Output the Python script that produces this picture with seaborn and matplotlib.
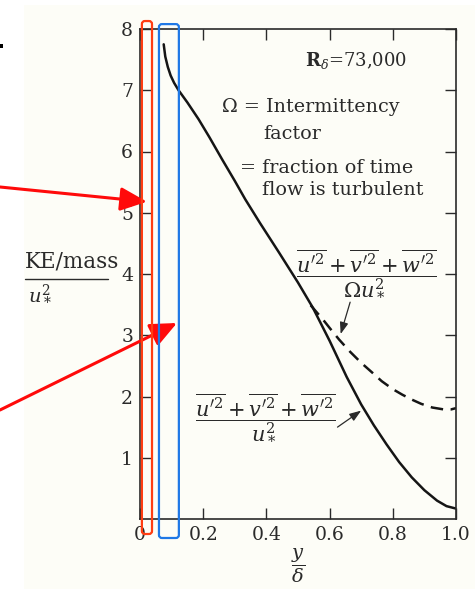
import numpy as np
import pandas as pd
import matplotlib
matplotlib.use("Agg")
import matplotlib.pyplot as plt
import seaborn as sns
from matplotlib.patches import Rectangle, FancyBboxPatch
from matplotlib.lines import Line2D
from matplotlib.transforms import IdentityTransform

# Turbulent kinetic energy across the boundary layer, R_delta = 73,000
y_over_delta = [0.075, 0.080, 0.088, 0.097, 0.108, 0.122, 0.15, 0.185, 0.22,
                0.26, 0.30, 0.333, 0.38, 0.44, 0.50, 0.547, 0.60, 0.654,
                0.70, 0.74, 0.78, 0.82, 0.86, 0.90, 0.94, 0.97, 1.0]
ke_total = [7.75, 7.55, 7.38, 7.24, 7.12, 7.00, 6.80, 6.53, 6.23,
            5.87, 5.52, 5.22, 4.83, 4.35, 3.86, 3.45, 2.91, 2.32,
            1.87, 1.53, 1.22, 0.93, 0.68, 0.47, 0.30, 0.21, 0.17]

y_over_delta_cond = [0.54, 0.56, 0.58, 0.60, 0.63, 0.665, 0.70, 0.735, 0.765,
                     0.80, 0.83, 0.86, 0.89, 0.925, 0.96, 0.985, 1.0]
ke_conditional = [3.49, 3.37, 3.25, 3.12, 2.93, 2.73, 2.55, 2.39, 2.25,
                  2.12, 2.03, 1.95, 1.88, 1.82, 1.79, 1.79, 1.81]

x_ticks = [0, 0.2, 0.4, 0.6, 0.8, 1.0]
x_tick_labels = ["0", "0.2", "0.4", "0.6", "0.8", "1.0"]
y_ticks = [1, 2, 3, 4, 5, 6, 7, 8]
y_tick_labels = ["1", "2", "3", "4", "5", "6", "7", "8"]

# highlighted bands (in y/delta) and arrow targets
band_near_wall = (0.006, 0.038)
band_outer = (0.060, 0.123)
arrow_targets = [(0.022, 5.18), (0.117, 3.20)]

df = pd.concat([
    pd.DataFrame({"y": y_over_delta, "ke": ke_total, "series": "total"}),
    pd.DataFrame({"y": y_over_delta_cond, "ke": ke_conditional, "series": "conditional"}),
], ignore_index=True)

sns.set_theme(style="ticks")
plt.rcParams["font.family"] = ["DejaVu Serif", "DejaVu Sans"]
plt.rcParams["mathtext.fontset"] = "dejavuserif"

INK = "#2a2a2a"
W, H = 475, 589
fig = plt.figure(figsize=(W / 100, H / 100), dpi=100)
fig.patch.set_facecolor("white")

# scanned page tone
fig.add_artist(Rectangle((24 / W, 0), 1 - 24 / W, 1 - 5 / H, transform=fig.transFigure,
                         facecolor="#fdfdf7", edgecolor="none", zorder=0))
fig.add_artist(Rectangle((0, 1 - 48 / H), 3 / W, 4 / H, transform=fig.transFigure,
                         facecolor="black", edgecolor="none", zorder=1))

ax = fig.add_axes([140 / W, 1 - 519 / H, 316 / W, 490 / H])
ax.set_facecolor("none")

sns.lineplot(data=df, x="y", y="ke", style="series", color="#151515",
             dashes={"total": "", "conditional": (5, 3)}, linewidth=1.8,
             legend=False, estimator=None, sort=False, ax=ax)

ax.set_xlim(0, 1.0)
ax.set_ylim(0, 8)
ax.set_xticks(x_ticks)
ax.set_xticklabels(x_tick_labels)
ax.set_yticks(y_ticks)
ax.set_yticklabels(y_tick_labels)
ax.tick_params(direction="in", length=8, width=1.0, color=INK, labelsize=13.5,
               labelcolor=INK, top=True, right=True, pad=5)
for s in ax.spines.values():
    s.set_color(INK)
    s.set_linewidth(1.2)
ax.set_ylabel("")
ax.set_xlabel(r"$\dfrac{y}{\delta}$", fontsize=14, color=INK, labelpad=2)

# annotations inside the axes
ax.text(0.522, 7.49, r"$\mathbf{R}_{\delta}$=73,000", fontsize=13, color=INK,
        ha="left", va="center")
ax.text(0.259, 6.73, "\u03a9 = Intermittency", fontsize=13.8, color=INK, ha="left", va="center")
ax.text(0.389, 6.29, "factor", fontsize=13.8, color=INK, ha="left", va="center")
ax.text(0.316, 5.73, "= fraction of time", fontsize=13.8, color=INK, ha="left", va="center")
ax.text(0.386, 5.37, "flow is turbulent", fontsize=13.8, color=INK, ha="left", va="center")

ax.text(0.715, 4.03,
        r"$\dfrac{\overline{u^{\prime 2}}+\overline{v^{\prime 2}}+\overline{w^{\prime 2}}}{\Omega u_*^2}$",
        fontsize=15, color=INK, ha="center", va="center")
ax.text(0.396, 1.67,
        r"$\dfrac{\overline{u^{\prime 2}}+\overline{v^{\prime 2}}+\overline{w^{\prime 2}}}{u_*^2}$",
        fontsize=15, color=INK, ha="center", va="center")

thin_arrow = dict(arrowstyle="-|>,head_length=0.5,head_width=0.18", color=INK,
                  lw=0.9, shrinkA=0, shrinkB=0, mutation_scale=14)
ax.annotate("", xy=(0.635, 3.02), xytext=(0.665, 3.54), arrowprops=thin_arrow)
ax.annotate("", xy=(0.70, 1.77), xytext=(0.625, 1.50), arrowprops=thin_arrow)

# y-axis caption (left part of the scan is cut off)
fig.text(25 / W, 1 - 262 / H, r"KE/mass", fontsize=15.5, color=INK, ha="left", va="center")
fig.add_artist(Line2D([25 / W, 108 / W], [1 - 279 / H, 1 - 279 / H], transform=fig.transFigure,
                      color=INK, lw=1.0))
fig.text(28 / W, 1 - 293 / H, r"$u_*^2$", fontsize=14, color=INK, ha="left", va="center")

# highlight boxes drawn in pixel space so the corners stay round
fig.canvas.draw()
def band_box(x0, x1, ylo, yhi, color):
    (px0, py0) = ax.transData.transform((x0, ylo))
    (px1, py1) = ax.transData.transform((x1, yhi))
    box = FancyBboxPatch((px0, py0), px1 - px0, py1 - py0,
                         boxstyle="round,pad=0,rounding_size=3",
                         transform=IdentityTransform(), fill=False,
                         edgecolor=color, lw=1.6, zorder=5)
    fig.add_artist(box)

band_box(band_near_wall[0], band_near_wall[1], -0.245, 8.13, "#ff3d12")
band_box(band_outer[0], band_outer[1], -0.31, 8.08, "#1f78e6")

red_arrow = dict(arrowstyle="-|>,head_length=0.9,head_width=0.4", color="#ff0a0a",
                 lw=2.2, shrinkA=0, shrinkB=0, mutation_scale=18)
ax.annotate("", xy=arrow_targets[0], xycoords="data",
            xytext=(0, 1 - 187 / H), textcoords="figure fraction",
            arrowprops=red_arrow, annotation_clip=False, zorder=6)
ax.annotate("", xy=arrow_targets[1], xycoords="data",
            xytext=(0, 1 - 410 / H), textcoords="figure fraction",
            arrowprops=red_arrow, annotation_clip=False, zorder=6)

fig.savefig("out.png", dpi=100)
